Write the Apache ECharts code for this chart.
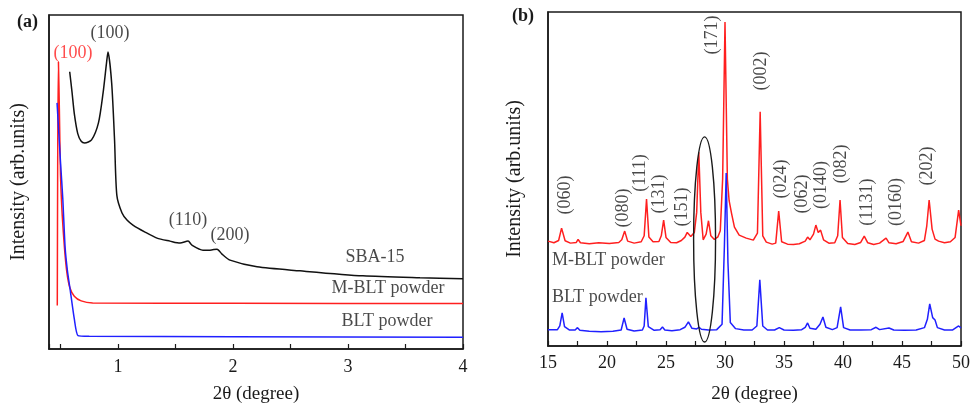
<!DOCTYPE html>
<html>
<head>
<meta charset="utf-8">
<script src="https://cdn.jsdelivr.net/npm/echarts@6/dist/echarts.min.js"></script>
<style>
    html, body { margin: 0; padding: 0; background: #fff; }
    #main { width: 973px; height: 410px; }
</style>
</head>
<body>
<div id="main"></div>
<script>
// (a) small-angle XRD, [2theta, intensity]
const sbaA = [
    [0.58, 83.0], [0.6, 77.0], [0.62, 70.5], [0.65, 64.5], [0.68, 62.2], [0.71, 61.7], [0.77, 62.6],
    [0.83, 67.7], [0.87, 76.6], [0.9, 85.6], [0.913, 88.9], [0.945, 79.6], [0.97, 62.6], [0.99, 46.0],
    [1.035, 40.7], [1.078, 38.6], [1.13, 37.1], [1.235, 35.0], [1.339, 33.2], [1.452, 32.3], [1.54, 31.7],
    [1.609, 32.3], [1.643, 31.1], [1.739, 29.6], [1.8, 29.6], [1.861, 29.9], [1.904, 28.4], [1.974, 26.6],
    [2.209, 24.6], [2.583, 23.4], [3.13, 21.9], [3.626, 21.3], [4.0, 21.0]
];
const mbltA = [
    [0.472, 13.0], [0.476, 60.0], [0.482, 85.9], [0.49, 72.0], [0.5, 52.0], [0.515, 40.0], [0.535, 30.0],
    [0.555, 23.0], [0.58, 18.5], [0.62, 15.8], [0.68, 14.4], [0.78, 13.8], [2.0, 13.7], [4.0, 13.6]
];
const bltA = [
    [0.47, 73.7], [0.5, 56.0], [0.52, 45.0], [0.54, 30.5], [0.56, 23.5], [0.585, 17.5], [0.62, 9.0],
    [0.652, 4.0], [0.75, 3.8], [2.0, 3.7], [4.0, 3.5]
];
const peakLabelsA = [['(100)', 0.93, 94.6], ['(110)', 1.609, 38.6], ['(200)', 1.974, 34.1]];
const redPeakLabelsA = [['(100)', 0.609, 88.6]];
const curveLabelsA = [['SBA-15', 3.235, 27.5], ['M-BLT powder', 3.348, 18.3], ['BLT powder', 3.339, 8.4]];

// (b) wide-angle XRD, [2theta, intensity]
const mbltB = [
    [15.0, 31.4], [15.5, 30.9], [15.9, 31.6], [16.15, 35.3], [16.45, 31.5], [16.9, 30.8], [17.4, 31.0],
    [17.55, 31.9], [17.75, 30.9], [18.5, 30.6], [19.3, 30.9], [20.2, 30.7], [21.0, 31.0], [21.25, 31.8],
    [21.5, 34.4], [21.75, 31.4], [22.3, 30.8], [22.9, 31.2], [23.15, 33.0], [23.35, 44.0], [23.55, 32.6],
    [23.9, 31.2], [24.4, 31.3], [24.6, 33.0], [24.8, 37.7], [25.0, 32.5], [25.4, 31.0], [25.9, 30.9],
    [26.3, 31.6], [26.6, 32.6], [26.8, 34.0], [27.1, 32.8], [27.4, 34.0], [27.6, 40.0], [27.78, 58.0],
    [27.95, 40.0], [28.15, 31.8], [28.4, 33.5], [28.6, 37.5], [28.8, 33.0], [29.1, 31.9], [29.4, 32.7],
    [29.6, 34.5], [29.8, 50.0], [30.0, 97.0], [30.2, 50.0], [30.35, 43.5], [30.55, 39.8], [30.8, 35.6],
    [31.2, 33.2], [31.8, 32.3], [32.4, 31.7], [32.75, 33.8], [32.98, 70.1], [33.2, 33.0], [33.5, 31.1],
    [34.0, 30.5], [34.3, 30.8], [34.55, 40.4], [34.8, 31.2], [35.3, 30.5], [35.8, 30.4], [36.3, 30.6],
    [36.8, 31.4], [37.0, 32.6], [37.2, 31.8], [37.5, 33.5], [37.7, 36.2], [37.9, 34.0], [38.1, 34.7],
    [38.35, 31.8], [38.8, 30.8], [39.3, 30.9], [39.55, 33.0], [39.75, 43.7], [39.95, 32.5], [40.4, 30.7],
    [41.0, 30.4], [41.5, 31.0], [41.8, 32.9], [42.1, 30.9], [42.6, 30.4], [43.1, 30.8], [43.4, 31.6],
    [43.65, 32.3], [43.9, 30.9], [44.5, 30.6], [45.1, 31.3], [45.5, 34.1], [45.8, 31.2], [46.4, 30.8],
    [46.9, 31.6], [47.1, 36.0], [47.3, 43.7], [47.55, 35.0], [47.8, 32.0], [48.1, 31.4], [48.6, 30.9],
    [49.1, 31.2], [49.5, 32.5], [49.8, 40.7], [50.0, 36.0]
];
const bltB = [
    [15.0, 4.9], [15.8, 4.9], [16.0, 6.0], [16.2, 9.9], [16.4, 5.8], [16.8, 4.8], [17.3, 4.8], [17.5, 5.5],
    [17.7, 4.7], [18.5, 4.4], [19.5, 4.3], [20.5, 4.4], [21.2, 4.8], [21.45, 8.4], [21.7, 5.0], [22.3, 4.5],
    [23.0, 4.8], [23.15, 6.0], [23.3, 14.4], [23.5, 5.8], [24.0, 4.7], [24.5, 4.9], [24.7, 5.7], [24.9, 4.8],
    [25.5, 4.6], [26.2, 4.9], [26.6, 5.6], [26.9, 7.2], [27.2, 5.3], [27.6, 5.1], [27.8, 5.6], [28.0, 5.0],
    [28.6, 4.8], [29.3, 4.9], [29.75, 6.5], [29.95, 30.0], [30.1, 51.8], [30.25, 25.0], [30.45, 7.0],
    [30.9, 5.2], [31.6, 4.8], [32.3, 4.8], [32.7, 6.0], [32.95, 19.8], [33.2, 6.0], [33.6, 4.8], [34.2, 4.8],
    [34.6, 5.5], [35.0, 4.8], [35.8, 4.7], [36.5, 4.9], [36.8, 5.6], [37.0, 6.9], [37.2, 5.3], [37.7, 5.0],
    [38.05, 6.5], [38.3, 8.7], [38.55, 5.6], [39.1, 4.9], [39.5, 5.5], [39.8, 11.7], [40.05, 5.5], [40.6, 4.8],
    [41.5, 4.8], [42.4, 4.9], [42.8, 5.6], [43.1, 4.9], [43.9, 5.4], [44.3, 4.8], [45.2, 4.7], [46.2, 4.8],
    [46.9, 5.5], [47.15, 8.0], [47.35, 12.6], [47.6, 8.5], [47.8, 7.8], [48.0, 5.5], [48.6, 4.8], [49.3, 4.8],
    [49.8, 6.0], [50.0, 5.4]
];
const peakLabelsB = [
    ['(060)', 16.44, 45.2], ['(080)', 21.34, 41.3], ['(111)', 22.78, 51.8], ['(131)', 24.47, 45.5],
    ['(151)', 26.41, 41.6], ['(171)', 28.95, 93.1], ['(002)', 33.09, 82.3], ['(024)', 34.78, 50.0],
    ['(062)', 36.56, 45.5], ['(0140)', 38.16, 48.2], ['(082)', 39.85, 54.5], ['(1131)', 42.05, 43.1],
    ['(0160)', 44.5, 43.1], ['(202)', 47.12, 53.9]
];
const curveLabelsB = [['M-BLT powder', 15.34, 25.7], ['BLT powder', 15.34, 14.7]];
// ellipse round the 27-29 degree region: [cx, cy, rx, ry]
const ellipseB = [28.27, 31.9, 0.93, 30.7];

const FONT = '"Liberation Serif", "Times New Roman", serif';
const INK = '#1a1a1a';

let myChart = echarts.init(document.getElementById('main'));

function xAxisOpt(gridIndex, extra) {
    return Object.assign({
        type: 'value',
        gridIndex: gridIndex,
        name: '2\u03b8 (degree)',
        nameLocation: 'middle',
        nameTextStyle: { fontSize: 19, color: INK, fontFamily: FONT },
        axisLine: { lineStyle: { color: INK, width: 1.5 } },
        axisTick: { inside: true, length: 5, lineStyle: { color: INK, width: 1.2 } },
        splitLine: { show: false }
    }, extra);
}

function yAxisOpt(gridIndex, gap) {
    return {
        type: 'value',
        gridIndex: gridIndex,
        min: 0,
        max: 100,
        name: 'Intensity (arb.units)',
        nameLocation: 'middle',
        nameGap: gap,
        nameTextStyle: { fontSize: 20, color: INK, fontFamily: FONT },
        axisLine: { show: true, lineStyle: { color: INK, width: 1.5 } },
        axisTick: { show: false },
        axisLabel: { show: false },
        splitLine: { show: false }
    };
}

function lineSeries(axis, data, color, smooth) {
    return {
        type: 'line',
        xAxisIndex: axis,
        yAxisIndex: axis,
        data: data,
        showSymbol: false,
        smooth: smooth,
        silent: true,
        lineStyle: { color: color, width: 1.5 },
        z: 3
    };
}

function textSeries(axis, items, color, rotate, align) {
    return {
        type: 'scatter',
        xAxisIndex: axis,
        yAxisIndex: axis,
        symbolSize: 1,
        silent: true,
        itemStyle: { color: 'rgba(0,0,0,0)' },
        data: items.map(d => ({ name: d[0], value: [d[1], d[2]] })),
        label: {
            show: true,
            position: 'inside',
            formatter: '{b}',
            rotate: rotate,
            align: align,
            verticalAlign: 'middle',
            fontSize: 18,
            color: color,
            fontFamily: FONT
        },
        z: 5
    };
}

myChart.setOption({
    backgroundColor: '#fff',
    animation: false,
    textStyle: { fontFamily: FONT },
    grid: [
        { left: 49, top: 15, width: 414, height: 334, show: true, borderColor: INK, borderWidth: 1.5 },
        { left: 548, top: 12, width: 414, height: 334, show: true, borderColor: INK, borderWidth: 1.5 }
    ],
    xAxis: [
        xAxisOpt(0, {
            min: 0.4,
            max: 4,
            splitNumber: 7,
            nameGap: 36,
            axisLabel: {
                margin: 9, fontSize: 18, color: INK, fontFamily: FONT,
                formatter: v => (Math.abs(v - Math.round(v)) < 1e-6 && v >= 1) ? String(Math.round(v)) : ''
            }
        }),
        xAxisOpt(1, {
            min: 15,
            max: 50,
            interval: 2.5,
            nameGap: 39,
            axisLabel: {
                margin: 8, fontSize: 18, color: INK, fontFamily: FONT,
                formatter: v => (v % 5 === 0) ? String(v) : ''
            }
        })
    ],
    yAxis: [yAxisOpt(0, 20), yAxisOpt(1, 23)],
    graphic: [
        { type: 'text', left: 17, top: 13, style: { text: '(a)', font: 'bold 18px ' + FONT, fill: INK } },
        { type: 'text', left: 512, top: 7, style: { text: '(b)', font: 'bold 18px ' + FONT, fill: INK } }
    ],
    series: [
        lineSeries(0, sbaA, '#111111', 0.25),
        lineSeries(0, mbltA, '#ff1f1f', 0.2),
        lineSeries(0, bltA, '#2020ff', 0.2),
        textSeries(0, peakLabelsA, INK, 0, 'center'),
        textSeries(0, redPeakLabelsA, '#ff1f1f', 0, 'center'),
        textSeries(0, curveLabelsA, INK, 0, 'center'),
        lineSeries(1, mbltB, '#ff1f1f', false),
        lineSeries(1, bltB, '#2020ff', false),
        textSeries(1, peakLabelsB, INK, 90, 'center'),
        textSeries(1, curveLabelsB, INK, 0, 'left'),
        {
            type: 'custom',
            xAxisIndex: 1,
            yAxisIndex: 1,
            silent: true,
            data: [ellipseB],
            renderItem: function (params, api) {
                const c = api.coord([api.value(0), api.value(1)]);
                const e = api.coord([api.value(0) + api.value(2), api.value(1) + api.value(3)]);
                return {
                    type: 'ellipse',
                    shape: { cx: c[0], cy: c[1], rx: e[0] - c[0], ry: c[1] - e[1] },
                    style: { fill: 'none', stroke: INK, lineWidth: 1.4 }
                };
            },
            z: 4
        }
    ]
});
</script>
</body>
</html>
